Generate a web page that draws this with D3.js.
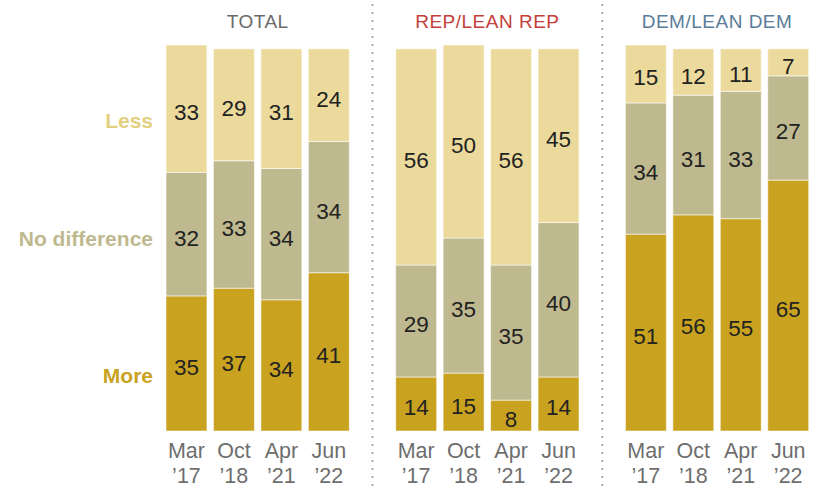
<!DOCTYPE html>
<html>
<head>
<meta charset="utf-8">
<script src="https://cdn.jsdelivr.net/npm/d3@7"></script>
<style>
  html, body { margin: 0; padding: 0; background: #fff; }
  svg { display: block; font-family: "Liberation Sans", Arial, sans-serif; }
</style>
</head>
<body>
<svg id="chart" width="813" height="487"></svg>
<script>
// Survey periods (two-line axis labels)
const periods = ["Mar '17", "Oct '18", "Apr '21", "Jun '22"];
const periodMonth = ["Mar", "Oct", "Apr", "Jun"];
const periodYear = ["\u201917", "\u201918", "\u201921", "\u201922"];

// Response categories, stacked bottom to top
const responses = ["More", "No difference", "Less"];

// Groups shown as separate panels
const groups = ["TOTAL", "REP/LEAN REP", "DEM/LEAN DEM"];

// Share answering each response, per group, per period
const moreValues = {
  "TOTAL":        [35, 37, 34, 41],
  "REP/LEAN REP": [14, 15, 8, 14],
  "DEM/LEAN DEM": [51, 56, 55, 65]
};
const noDiffValues = {
  "TOTAL":        [32, 33, 34, 34],
  "REP/LEAN REP": [29, 35, 35, 40],
  "DEM/LEAN DEM": [34, 31, 33, 27]
};
const lessValues = {
  "TOTAL":        [33, 29, 31, 24],
  "REP/LEAN REP": [56, 50, 56, 45],
  "DEM/LEAN DEM": [15, 12, 11, 7]
};

const fills = { "More": "#c9a21f", "No difference": "#bfb98f", "Less": "#ebda9c" };
const labelFills = { "More": "#c9a21f", "No difference": "#bfb98f", "Less": "#e3cf80" };
const titleFills = { "TOTAL": "#6a6a6a", "REP/LEAN REP": "#c4403a", "DEM/LEAN DEM": "#5a7c99" };

const svg = d3.select("#chart");

const plotBottom = 431, plotTop = 45;
const y = d3.scaleLinear().domain([0, 100]).range([plotBottom, plotTop]);

// Panel extents along x
const panelX = d3.scaleBand().domain(groups).range([166, 808.7]).paddingInner(0.202);

const valuesFor = { "More": moreValues, "No difference": noDiffValues, "Less": lessValues };

groups.forEach(g => {
  const x = d3.scaleBand().domain(periods)
    .range([panelX(g), panelX(g) + panelX.bandwidth()])
    .paddingInner(0.137);

  const rows = periods.map((p, i) => {
    const r = { period: p };
    responses.forEach(k => { r[k] = valuesFor[k][g][i]; });
    return r;
  });
  const series = d3.stack().keys(responses)(rows);

  const pg = svg.append("g");

  series.forEach(s => {
    pg.selectAll(null).data(s).enter().append("rect")
      .attr("x", d => x(d.data.period))
      .attr("width", x.bandwidth())
      .attr("y", d => y(d[1]))
      .attr("height", d => y(d[0]) - y(d[1]))
      .attr("fill", fills[s.key])
      .attr("stroke", "rgba(255,255,255,0.55)")
      .attr("stroke-width", 1);

    pg.selectAll(null).data(s).enter().append("text")
      .attr("x", d => x(d.data.period) + x.bandwidth() / 2)
      .attr("y", d => (y(d[0]) + y(d[1])) / 2 + 4)
      .attr("text-anchor", "middle")
      .attr("dominant-baseline", "central")
      .attr("font-size", 22.5)
      .attr("fill", "#222")
      .text(d => d.data[s.key]);
  });

  // Panel title
  pg.append("text")
    .attr("x", panelX(g) + panelX.bandwidth() / 2)
    .attr("y", 28)
    .attr("text-anchor", "middle")
    .attr("font-size", 19)
    .attr("letter-spacing", 0.5)
    .attr("fill", titleFills[g])
    .text(g);

  // Two-line period labels
  const axis = pg.selectAll(null).data(periods).enter().append("text")
    .attr("text-anchor", "middle")
    .attr("font-size", 21.5)
    .attr("fill", "#6e6e6e");
  axis.append("tspan")
    .attr("x", d => x(d) + x.bandwidth() / 2)
    .attr("y", 458)
    .text((d, i) => periodMonth[i]);
  axis.append("tspan")
    .attr("x", d => x(d) + x.bandwidth() / 2)
    .attr("y", 483)
    .text((d, i) => periodYear[i]);
});

// Dotted separators between panels
[1, 2].forEach(i => {
  const prevEnd = panelX(groups[i - 1]) + panelX.bandwidth();
  const sx = (prevEnd + panelX(groups[i])) / 2;
  svg.append("line")
    .attr("x1", sx).attr("x2", sx)
    .attr("y1", 4).attr("y2", 487)
    .attr("stroke", "#a9a9a9")
    .attr("stroke-width", 2)
    .attr("stroke-dasharray", "2,6");
});

// Response labels on the left, aligned with the first TOTAL bar
function firstBarMids() {
  let acc = 0;
  return responses.map(k => {
    const v = valuesFor[k]["TOTAL"][0];
    const mid = acc + v / 2;
    acc += v;
    return { key: k, mid };
  });
}
const labelNudge = { "More": 12.5, "No difference": 4, "Less": 12 };
svg.selectAll(null).data(firstBarMids()).enter().append("text")
  .attr("x", 153)
  .attr("y", d => y(d.mid) + labelNudge[d.key])
  .attr("text-anchor", "end")
  .attr("dominant-baseline", "central")
  .attr("font-size", 21)
  .attr("font-weight", "bold")
  .attr("fill", d => labelFills[d.key])
  .text(d => d.key);
</script>
</body>
</html>
